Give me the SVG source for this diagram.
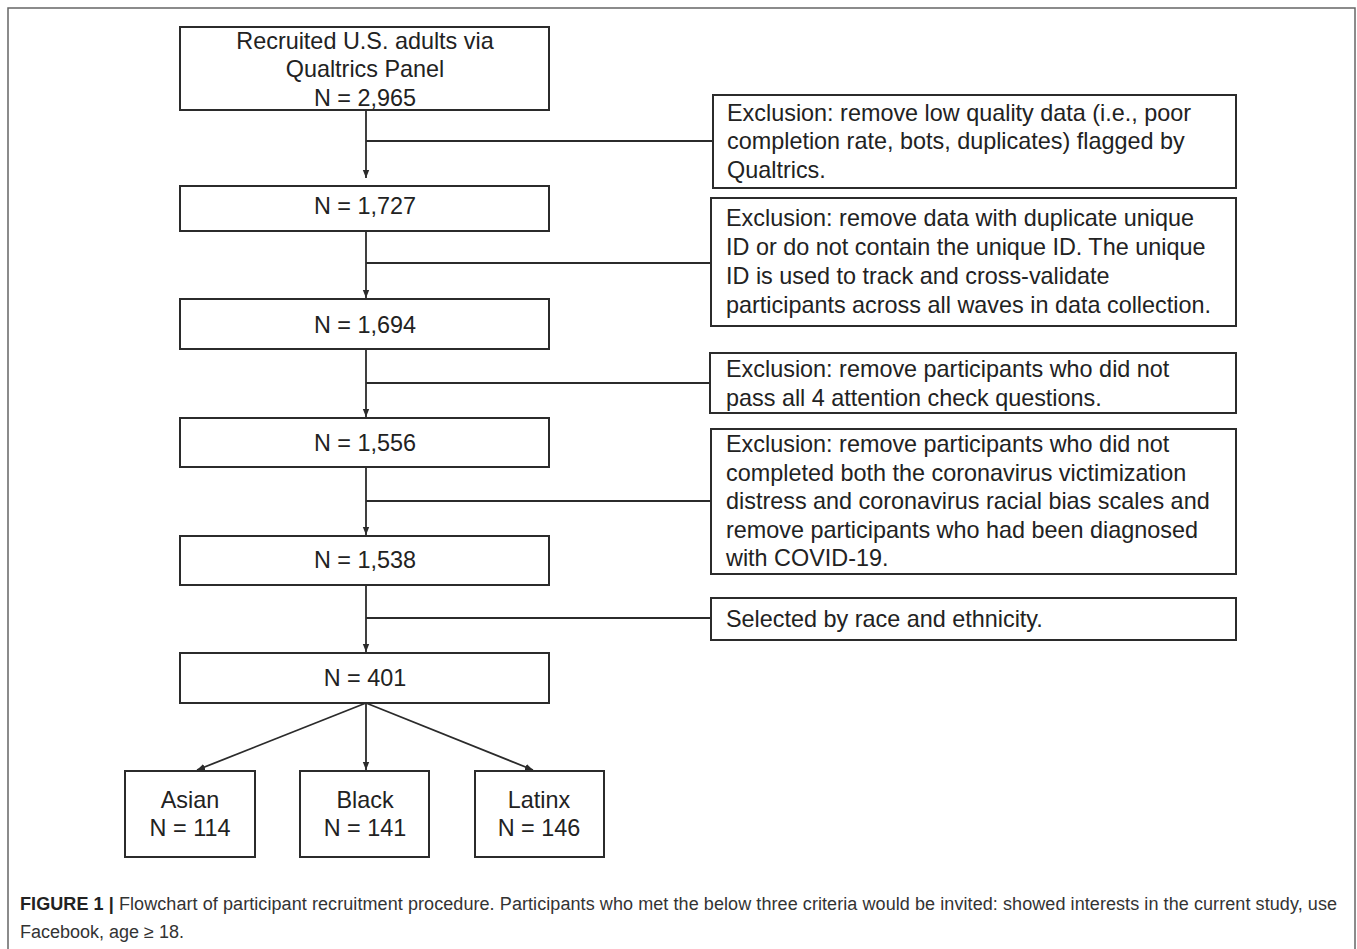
<svg xmlns="http://www.w3.org/2000/svg" width="1357" height="949" viewBox="0 0 1357 949">
<defs>
<marker id="ah" viewBox="0 0 10 10" refX="10" refY="5" markerWidth="8" markerHeight="8" markerUnits="userSpaceOnUse" orient="auto">
<path d="M0,1 L10,5 L0,9 Z" fill="#2b2b2b"/>
</marker>
<style>
.box{fill:#fff;stroke:#2b2b2b;stroke-width:2}
.t{font-family:"Liberation Sans",Arial,sans-serif;font-size:23.4px;fill:#222}
.c{text-anchor:middle}
.ln{stroke:#2b2b2b;stroke-width:1.8;fill:none}
.cap{font-family:"Liberation Sans",Arial,sans-serif;font-size:18px;fill:#333}
</style>
</defs>
<rect x="0" y="0" width="1357" height="949" fill="#fff"/>
<rect x="8" y="8" width="1347" height="960" fill="none" stroke="#666" stroke-width="1.5"/>

<g id="connectors">
<path class="ln" d="M366,110 V178" marker-end="url(#ah)"/>
<path class="ln" d="M366,141 H713"/>
<path class="ln" d="M366,231 V298" marker-end="url(#ah)"/>
<path class="ln" d="M366,263 H711"/>
<path class="ln" d="M366,349 V417" marker-end="url(#ah)"/>
<path class="ln" d="M366,383 H710"/>
<path class="ln" d="M366,467 V535" marker-end="url(#ah)"/>
<path class="ln" d="M366,501 H711"/>
<path class="ln" d="M366,585 V652" marker-end="url(#ah)"/>
<path class="ln" d="M366,618 H711"/>
<path class="ln" d="M366,703 L197,770" marker-end="url(#ah)"/>
<path class="ln" d="M366,703 V770" marker-end="url(#ah)"/>
<path class="ln" d="M366,703 L533,770" marker-end="url(#ah)"/>
</g>

<g id="n2965">
<rect class="box" x="180" y="27" width="369" height="83"/>
<text class="t c" x="365" y="49">Recruited U.S. adults via</text>
<text class="t c" x="365" y="77">Qualtrics Panel</text>
<text class="t c" x="365" y="106">N = 2,965</text>
</g>
<g id="n1727">
<rect class="box" x="180" y="186" width="369" height="45"/>
<text class="t c" x="365" y="214">N = 1,727</text>
</g>
<g id="n1694">
<rect class="box" x="180" y="299" width="369" height="50"/>
<text class="t c" x="365" y="333">N = 1,694</text>
</g>
<g id="n1556">
<rect class="box" x="180" y="418" width="369" height="49"/>
<text class="t c" x="365" y="451">N = 1,556</text>
</g>
<g id="n1538">
<rect class="box" x="180" y="536" width="369" height="49"/>
<text class="t c" x="365" y="568">N = 1,538</text>
</g>
<g id="n401">
<rect class="box" x="180" y="653" width="369" height="50"/>
<text class="t c" x="365" y="686">N = 401</text>
</g>
<g id="asian">
<rect class="box" x="125" y="771" width="130" height="86"/>
<text class="t c" x="190" y="808">Asian</text>
<text class="t c" x="190" y="836">N = 114</text>
</g>
<g id="black">
<rect class="box" x="300" y="771" width="129" height="86"/>
<text class="t c" x="365" y="808">Black</text>
<text class="t c" x="365" y="836">N = 141</text>
</g>
<g id="latinx">
<rect class="box" x="475" y="771" width="129" height="86"/>
<text class="t c" x="539" y="808">Latinx</text>
<text class="t c" x="539" y="836">N = 146</text>
</g>

<g id="ex1">
<rect class="box" x="713" y="95" width="523" height="93"/>
<text class="t" x="727" y="121">Exclusion: remove low quality data (i.e., poor</text>
<text class="t" x="727" y="149">completion rate, bots, duplicates) flagged by</text>
<text class="t" x="727" y="178">Qualtrics.</text>
</g>
<g id="ex2">
<rect class="box" x="711" y="198" width="525" height="128"/>
<text class="t" x="726" y="226">Exclusion: remove data with duplicate unique</text>
<text class="t" x="726" y="255">ID or do not contain the unique ID. The unique</text>
<text class="t" x="726" y="284">ID is used to track and cross-validate</text>
<text class="t" x="726" y="313">participants across all waves in data collection.</text>
</g>
<g id="ex3">
<rect class="box" x="710" y="353" width="526" height="60"/>
<text class="t" x="726" y="377">Exclusion: remove participants who did not</text>
<text class="t" x="726" y="406">pass all 4 attention check questions.</text>
</g>
<g id="ex4">
<rect class="box" x="711" y="429" width="525" height="145"/>
<text class="t" x="726" y="452">Exclusion: remove participants who did not</text>
<text class="t" x="726" y="481">completed both the coronavirus victimization</text>
<text class="t" x="726" y="509">distress and coronavirus racial bias scales and</text>
<text class="t" x="726" y="538">remove participants who had been diagnosed</text>
<text class="t" x="726" y="566">with COVID-19.</text>
</g>
<g id="sel">
<rect class="box" x="711" y="598" width="525" height="42"/>
<text class="t" x="726" y="627">Selected by race and ethnicity.</text>
</g>

<g id="caption">
<text class="cap" x="20" y="910" textLength="1317" lengthAdjust="spacing"><tspan font-weight="bold" fill="#222">FIGURE 1 |</tspan> Flowchart of participant recruitment procedure. Participants who met the below three criteria would be invited: showed interests in the current study, use</text>
<text class="cap" x="20" y="938">Facebook, age ≥ 18.</text>
</g>
</svg>
